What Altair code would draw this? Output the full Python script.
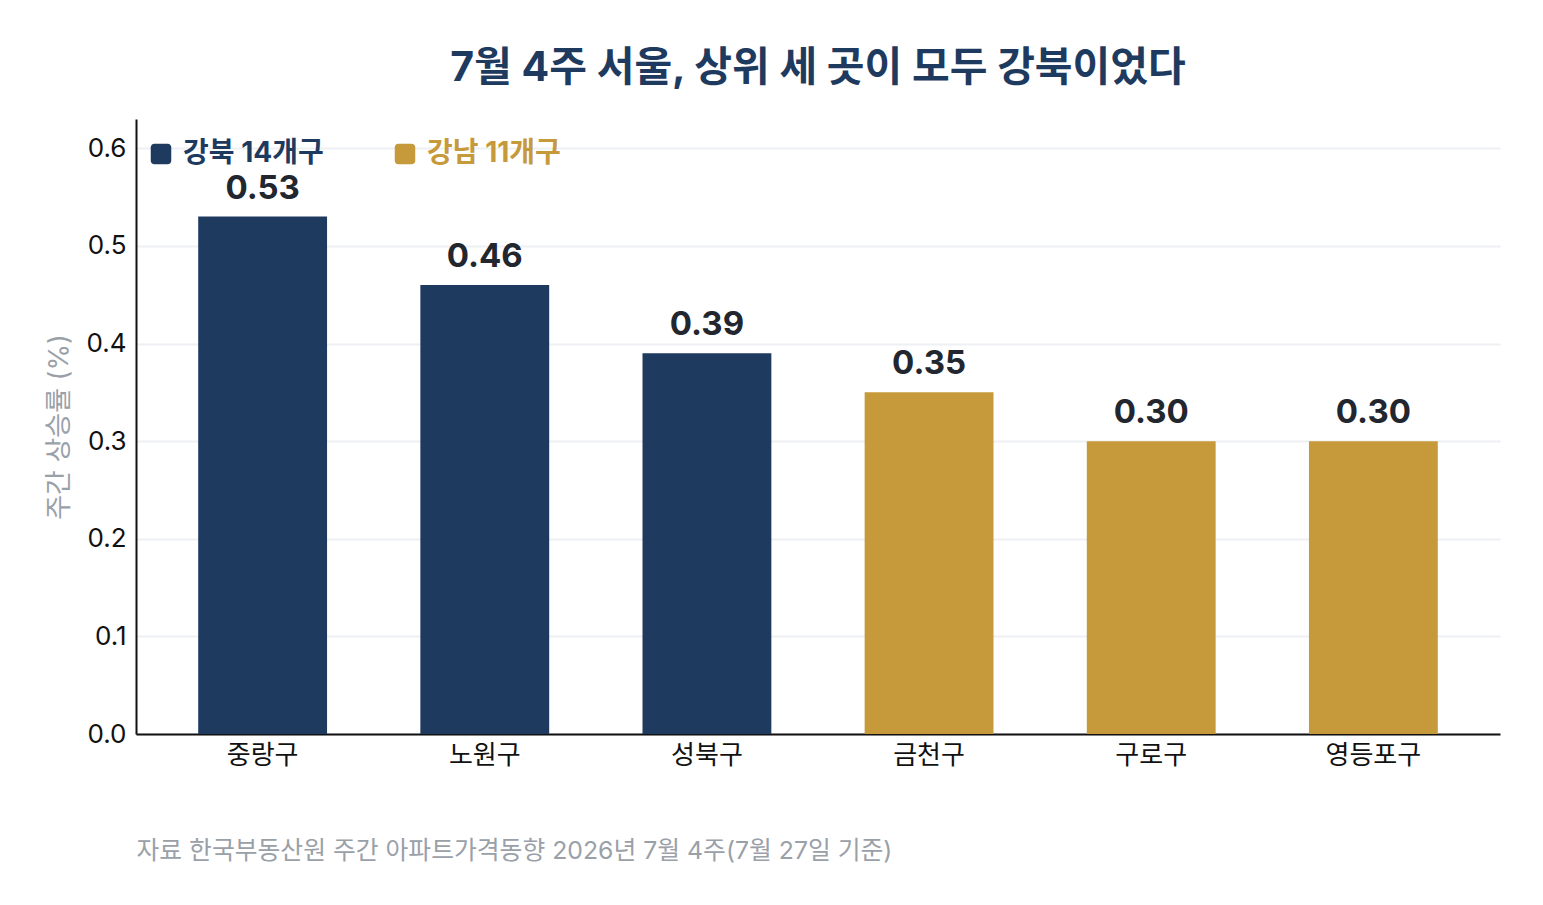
import altair as alt
import pandas as pd

districts = ["중랑구", "노원구", "성북구", "금천구", "구로구", "영등포구"]
values = [0.53, 0.46, 0.39, 0.35, 0.30, 0.30]
groups = ["강북 14개구", "강북 14개구", "강북 14개구", "강남 11개구", "강남 11개구", "강남 11개구"]
group_domain = ["강북 14개구", "강남 11개구"]
group_colors = ["#1e3a5f", "#c69a3a"]
y_ticks = [0.0, 0.1, 0.2, 0.3, 0.4, 0.5, 0.6]

title_text = "7월 4주 서울, 상위 세 곳이 모두 강북이었다"
y_title = "주간 상승률 (%)"
footer = "자료 한국부동산원 주간 아파트가격동향 2026년 7월 4주(7월 27일 기준)"

df = pd.DataFrame({"district": districts, "value": values, "group": groups})

FONT = "Inter, Noto Sans CJK KR, sans-serif"
ROUNDED = ("M-0.65,-1 L0.65,-1 A0.35,0.35 0 0 1 1,-0.65 L1,0.65 A0.35,0.35 0 0 1 0.65,1 "
           "L-0.65,1 A0.35,0.35 0 0 1 -1,0.65 L-1,-0.65 A0.35,0.35 0 0 1 -0.65,-1 Z")

x_enc = alt.X(
    "district:N",
    sort=districts,
    scale=alt.Scale(paddingInner=0.42, paddingOuter=0.28),
    axis=alt.Axis(
        title=footer, titleFontSize=24.8, titleColor="#9aa0a8", titleFontWeight="normal",
        titleAnchor="start", titleAlign="left", titlePadding=70, titleFont=FONT,
        labelAngle=0, labelFontSize=26, labelColor="#111111", labelPadding=8, labelFont=FONT,
        ticks=False, domainColor="#111111", domainWidth=2, grid=False,
    ),
)
y_enc = alt.Y(
    "value:Q",
    scale=alt.Scale(domain=[0, 0.63], nice=False),
    axis=alt.Axis(
        title=y_title, titleFontSize=27, titleColor="#9aa0a8", titleFontWeight="normal",
        titlePadding=12, titleFont=FONT,
        values=y_ticks, format=".1f", labelFontSize=26, labelColor="#111111", labelPadding=10,
        labelFont=FONT, ticks=False, domainColor="#111111", domainWidth=2,
        grid=True, gridColor="#eef0f3", gridWidth=2,
    ),
)

bars = alt.Chart(df).mark_bar().encode(
    x=x_enc,
    y=y_enc,
    color=alt.Color(
        "group:N",
        scale=alt.Scale(domain=group_domain, range=group_colors),
        legend=alt.Legend(
            title=None, orient="none", legendX=11, legendY=21, direction="horizontal",
            symbolType=ROUNDED, symbolSize=420, symbolStrokeWidth=0, symbolOpacity=1,
            labelFontSize=28, labelFontWeight="bold", labelFont=FONT,
            labelColor=alt.ExprRef("datum.label == '강북 14개구' ? '#1e3a5f' : '#c69a3a'"),
            columnPadding=67, labelOffset=8, labelLimit=300,
        ),
    ),
)

labels = alt.Chart(df).mark_text(
    dy=-11, baseline="bottom", fontSize=33, fontWeight="bold", color="#22262e", font=FONT
).encode(
    x=alt.X("district:N", sort=districts),
    y="value:Q",
    text=alt.Text("value:Q", format=".2f"),
)

chart = (
    alt.layer(bars, labels)
    .properties(
        width=1364,
        height=615,
        background="white",
        padding={"left": 37, "top": 40, "right": 30, "bottom": 20},
        title=alt.TitleParams(
            title_text, fontSize=41, fontWeight="bold", color="#1e3a5f", font=FONT,
            anchor="middle", offset=29,
        ),
    )
    .configure_view(stroke=None)
)

chart.save("out.html", embed_options={"renderer": "svg", "actions": False})
